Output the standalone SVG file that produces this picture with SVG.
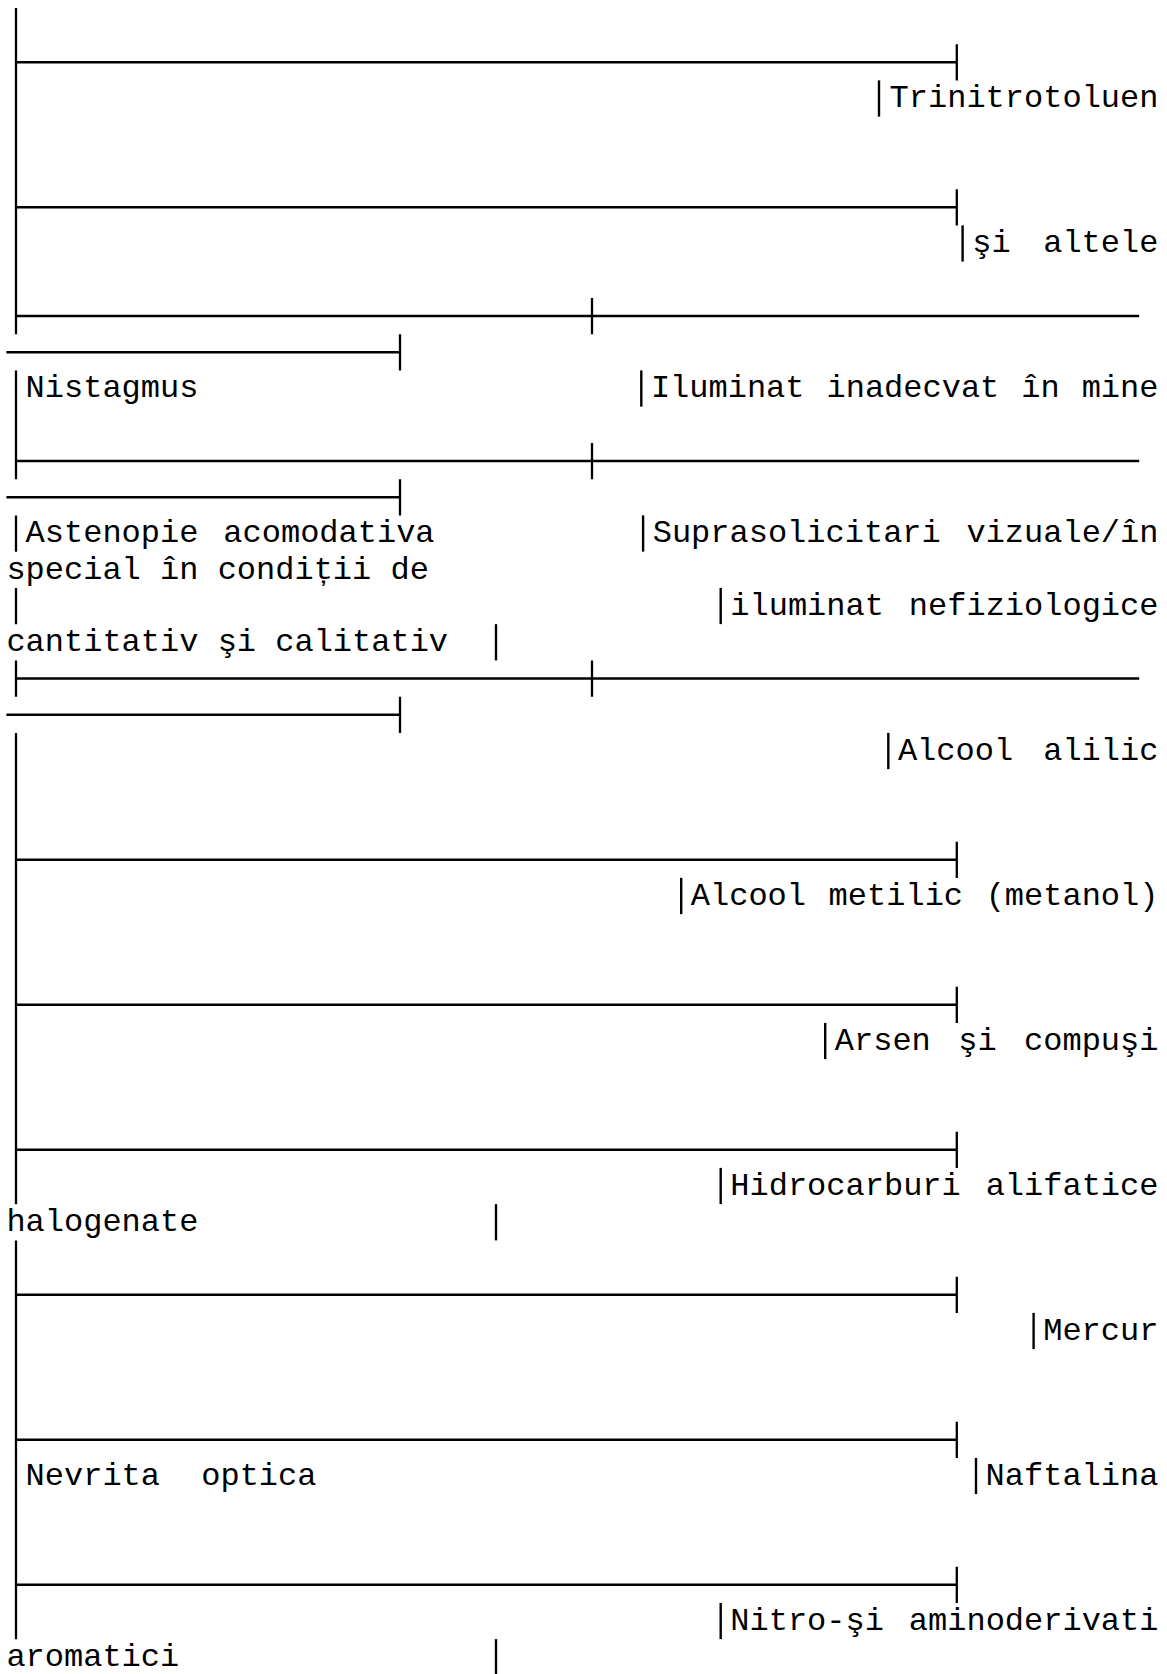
<svg xmlns="http://www.w3.org/2000/svg" width="1167" height="1674" viewBox="0 0 1167 1674">
<style>
.ln{stroke:#000;stroke-width:2.3;fill:none;stroke-linecap:butt}
.bar{stroke:#000;stroke-width:2.4;fill:none}
.t{font-family:"Liberation Mono","Courier New",monospace;font-size:32px;fill:#000}
</style>
<rect width="1167" height="1674" fill="#fff"/>
<g id="connectors">
  <path class="ln" d="M16 7.875V334.125M16 370.375V479.125M16 515.375V551.625M16 587.875V624.125M16 660.375V696.625M16 732.875V1204.125M16 1240.375V1639.125"/>
  <path class="ln" d="M16 62.25H956.8M956.8 44.125V80.375
    M16 207.25H956.8M956.8 189.125V225.375
    M16 859.75H956.8M956.8 841.625V877.875
    M16 1004.75H956.8M956.8 986.625V1022.875
    M16 1149.75H956.8M956.8 1131.625V1167.875
    M16 1294.75H956.8M956.8 1276.625V1312.875
    M16 1439.75H956.8M956.8 1421.625V1457.875
    M16 1584.75H956.8M956.8 1566.625V1602.875"/>
  <path class="ln" d="M16 316H1139.2M592 297.875V334.125M6.4 352.25H400M400 334.125V370.375
    M16 461H1139.2M592 442.875V479.125M6.4 497.25H400M400 479.125V515.375
    M16 678.5H1139.2M592 660.375V696.625M6.4 714.75H400M400 696.625V732.875"/>
</g>
<g id="n-trinitrotoluen">
  <path class="bar" d="M879 80.375V116.625"/>
  <text class="t" x="889.6" y="107.3">Trinitrotoluen</text>
</g>
<g id="n-si-altele">
  <path class="bar" d="M962.6 225.375V261.625"/>
  <text class="t" x="972.2" y="252.3" style="word-spacing:13.4px">şi altele</text>
</g>
<g id="n-nistagmus">
  <text class="t" x="25.6" y="397.3">Nistagmus</text>
</g>
<g id="n-iluminat-mine">
  <path class="bar" d="M641.3 370.375V406.625"/>
  <text class="t" x="650.9" y="397.3" style="word-spacing:2.77px">Iluminat inadecvat în mine</text>
</g>
<g id="n-astenopie">
  <text class="t" x="25.6" y="542.3" style="word-spacing:5.7px">Astenopie acomodativa</text>
  <text class="t" x="6.4" y="578.55">special în condiții de</text>
  <text class="t" x="6.4" y="651.05">cantitativ şi calitativ</text>
  <path class="bar" d="M496 624.125V660.375"/>
</g>
<g id="n-suprasolicitari">
  <path class="bar" d="M643.1 515.375V551.625"/>
  <text class="t" x="652.7" y="542.3" style="word-spacing:6.5px">Suprasolicitari vizuale/în</text>
  <path class="bar" d="M720.7 587.875V624.125"/>
  <text class="t" x="730.3" y="614.8" style="word-spacing:5.7px">iluminat nefiziologice</text>
</g>
<g id="n-alcool-alilic">
  <path class="bar" d="M888.3 732.875V769.125"/>
  <text class="t" x="897.9" y="759.8" style="word-spacing:10.9px">Alcool alilic</text>
</g>
<g id="n-alcool-metilic">
  <path class="bar" d="M681.2 877.875V914.125"/>
  <text class="t" x="690.8" y="904.8" style="word-spacing:3.4px">Alcool metilic (metanol)</text>
</g>
<g id="n-arsen">
  <path class="bar" d="M825.2 1022.875V1059.125"/>
  <text class="t" x="834.8" y="1049.8" style="word-spacing:8.2px">Arsen şi compuşi</text>
</g>
<g id="n-hidrocarburi">
  <path class="bar" d="M720.7 1167.875V1204.125"/>
  <text class="t" x="730.3" y="1194.8" style="word-spacing:5.7px">Hidrocarburi alifatice</text>
  <text class="t" x="6.4" y="1231.05">halogenate</text>
  <path class="bar" d="M496 1204.125V1240.375"/>
</g>
<g id="n-mercur">
  <path class="bar" d="M1033.6 1312.875V1349.125"/>
  <text class="t" x="1043.2" y="1339.8">Mercur</text>
</g>
<g id="n-nevrita">
  <text class="t" x="25.6" y="1484.8" style="word-spacing:22px">Nevrita optica</text>
</g>
<g id="n-naftalina">
  <path class="bar" d="M976 1457.875V1494.125"/>
  <text class="t" x="985.6" y="1484.8">Naftalina</text>
</g>
<g id="n-nitro">
  <path class="bar" d="M720.7 1602.875V1639.125"/>
  <text class="t" x="730.3" y="1629.8" style="word-spacing:5.7px">Nitro-şi aminoderivati</text>
  <text class="t" x="6.4" y="1666.05">aromatici</text>
  <path class="bar" d="M496 1639.125V1675.375"/>
</g>
</svg>
